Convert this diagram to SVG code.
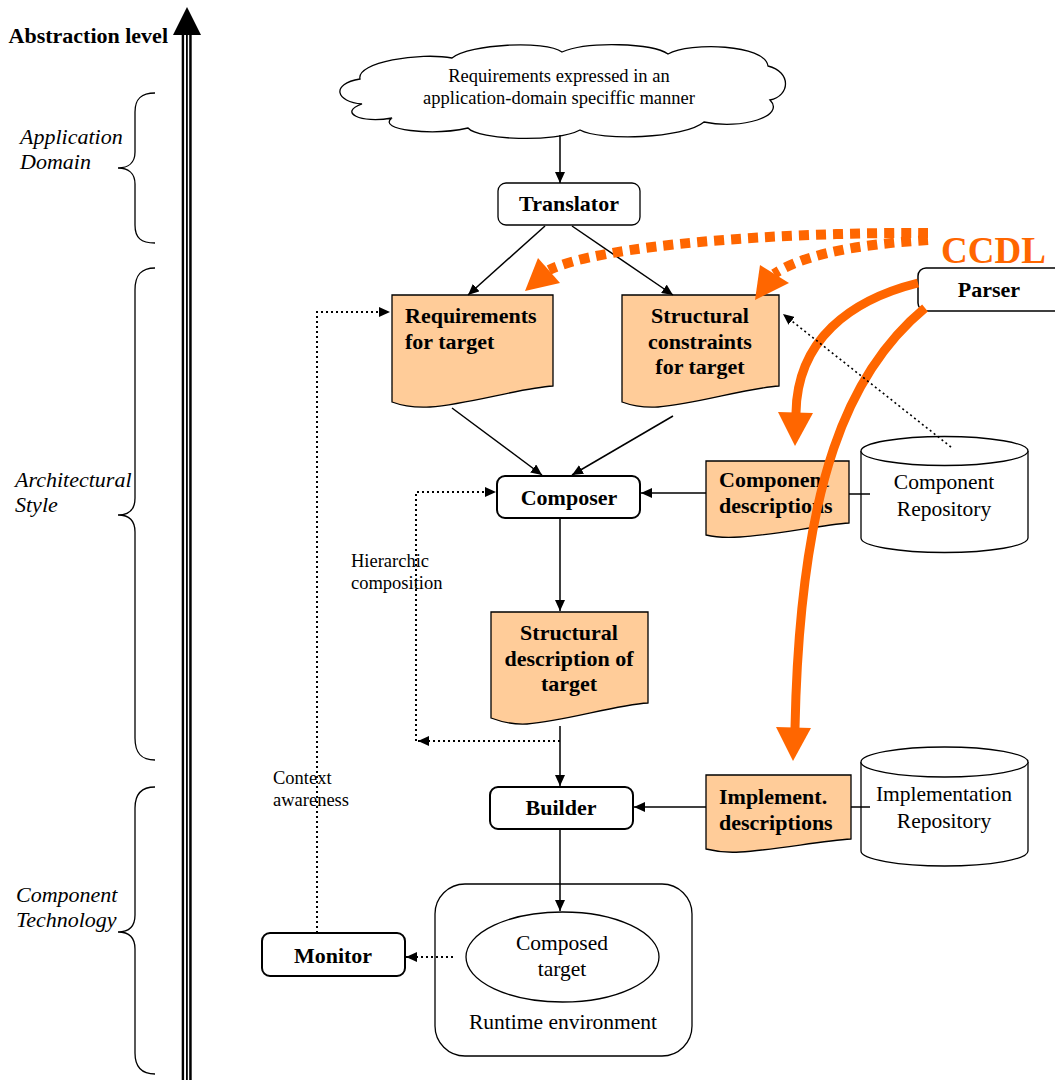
<svg xmlns="http://www.w3.org/2000/svg" width="1055" height="1080" viewBox="0 0 1055 1080">
<style>
  .b { font-family: "Liberation Serif", "Times New Roman", serif; font-weight: bold; font-size: 22px; fill: #000; }
  .r { font-family: "Liberation Serif", "Times New Roman", serif; font-size: 21.5px; fill: #000; }
  .s { font-family: "Liberation Serif", "Times New Roman", serif; font-size: 18.5px; fill: #000; }
  .i { font-family: "Liberation Serif", "Times New Roman", serif; font-style: italic; font-size: 22px; fill: #000; }
  .box { fill: #fff; stroke: #000; stroke-width: 2; }
  .doc { fill: #FFCC99; stroke: #000; stroke-width: 1.3; }
  .cyl { fill: #fff; stroke: #000; stroke-width: 1.3; }
  .ln { fill: none; stroke: #000; stroke-width: 1.5; }
  .dot { fill: none; stroke: #000; stroke-width: 2; stroke-dasharray: 2 3; }
  .brace { fill: none; stroke: #000; stroke-width: 1.3; }
  .orsolid { fill: none; stroke: #FF6600; stroke-width: 9; }
  .ordash { fill: none; stroke: #FF6600; stroke-width: 10; stroke-dasharray: 10 7; }
  .orhead { fill: #FF6600; }
</style>
<defs>
  <marker id="ah" markerUnits="userSpaceOnUse" markerWidth="11" markerHeight="10" refX="11" refY="5" orient="auto">
    <path d="M0,0 L11,5 L0,10 z" fill="#000"/>
  </marker>
</defs>
<rect x="0" y="0" width="1055" height="1080" fill="#fff"/>

<!-- Abstraction axis -->
<g id="axis">
  <rect x="181.7" y="30" width="2.4" height="1050" fill="#000"/>
  <rect x="186" y="30" width="1.8" height="1050" fill="#000"/>
  <rect x="189.2" y="30" width="2.5" height="1050" fill="#000"/>
  <polygon points="187,7 173,35 201,35" fill="#000"/>
  <text class="b" x="168" y="43" text-anchor="end">Abstraction level</text>
</g>

<!-- Level braces -->
<g id="level-application">
  <path class="brace" d="M155,93 C141,93 135,99 135,112 V152 C135,163 128,168 118,168 C128,168 135,173 135,184 V225 C135,238 141,243 155,243"/>
  <text class="i" x="20" y="144">Application</text>
  <text class="i" x="20" y="169">Domain</text>
</g>
<g id="level-architectural">
  <path class="brace" d="M155,268 C141,268 135,275 135,290 V498 C135,510 128,515 118,515 C128,515 135,520 135,532 V738 C135,753 141,760 155,760"/>
  <text class="i" x="15" y="487">Architectural</text>
  <text class="i" x="15" y="512">Style</text>
</g>
<g id="level-component">
  <path class="brace" d="M155,787 C141,787 135,794 135,808 V915 C135,927 128,932 118,932 C128,932 135,937 135,949 V1053 C135,1067 141,1074 155,1074"/>
  <text class="i" x="16" y="902">Component</text>
  <text class="i" x="16" y="927">Technology</text>
</g>

<!-- Nodes -->
<g id="requirements-cloud">
  <path d="M362,104 C336,102 330,84 360,79 C356,62 420,52 452,58 C470,44 545,40 562,52 C588,41 652,43 668,54 C690,42 765,44 768,66 C792,72 790,96 770,100 C786,116 742,130 704,122 C684,139 600,141 580,130 C556,143 478,140 468,128 C432,136 376,130 392,118 C360,124 338,112 362,104 Z" fill="#fff" stroke="#000" stroke-width="1.3"/>
  <text class="s" x="559" y="82" text-anchor="middle">Requirements expressed in an</text>
  <text class="s" x="559" y="104" text-anchor="middle">application-domain speciffic manner</text>
</g>

<g id="translator">
  <rect class="box" x="498" y="183" width="142" height="42" rx="8" style="stroke-width:1.3"/>
  <text class="b" x="569" y="211" text-anchor="middle">Translator</text>
</g>

<g id="requirements-for-target">
  <path class="doc" d="M392,295 H553 V386 C520,388 470,404 430,407 C412,408 400,405 392,402 Z"/>
  <text class="b" x="405" y="323">Requirements</text>
  <text class="b" x="405" y="349">for target</text>
</g>

<g id="structural-constraints">
  <path class="doc" d="M622,295 H779 V386 C746,388 697,404 658,407 C641,408 630,405 622,402 Z"/>
  <text class="b" x="700" y="323" text-anchor="middle">Structural</text>
  <text class="b" x="700" y="349" text-anchor="middle">constraints</text>
  <text class="b" x="700" y="374" text-anchor="middle">for target</text>
</g>

<g id="parser">
  <rect class="box" x="918" y="268" width="150" height="43" rx="8" style="stroke-width:1.5"/>
  <text class="b" x="989" y="297" text-anchor="middle">Parser</text>
</g>

<g id="ccdl-label">
  <text x="941" y="263" font-family="Liberation Serif, Times New Roman, serif" font-weight="bold" font-size="37" fill="#FF6600">CCDL</text>
</g>

<g id="composer">
  <rect class="box" x="497" y="476" width="143" height="42" rx="8"/>
  <text class="b" x="569" y="505" text-anchor="middle">Composer</text>
</g>

<g id="component-descriptions">
  <path class="doc" d="M706,461 H849 V523 C820,525 775,535 740,537 C725,538 714,537 706,535 Z"/>
  <text class="b" x="719" y="487">Component</text>
  <text class="b" x="719" y="513">descriptions</text>
</g>

<g id="component-repository">
  <path class="cyl" d="M861,451 V538 A83.5,14.5 0 0 0 1028,538 V451"/>
  <ellipse class="cyl" cx="944.5" cy="451" rx="83.5" ry="14.5"/>
  <text class="r" x="944" y="489" text-anchor="middle">Component</text>
  <text class="r" x="944" y="516" text-anchor="middle">Repository</text>
</g>

<g id="structural-description">
  <path class="doc" d="M491,612 H648 V703 C615,705 566,721 527,724 C510,725 499,721 491,718 Z"/>
  <text class="b" x="569" y="640" text-anchor="middle">Structural</text>
  <text class="b" x="569" y="666" text-anchor="middle">description of</text>
  <text class="b" x="569" y="691" text-anchor="middle">target</text>
</g>

<g id="hierarchic-label">
  <text class="s" x="351" y="567">Hierarchic</text>
  <text class="s" x="351" y="589">composition</text>
</g>

<g id="context-label">
  <text class="s" x="273" y="784">Context</text>
  <text class="s" x="273" y="806">awareness</text>
</g>

<g id="builder">
  <rect class="box" x="490" y="787" width="143" height="42" rx="8"/>
  <text class="b" x="561" y="815" text-anchor="middle">Builder</text>
</g>

<g id="implement-descriptions">
  <path class="doc" d="M706,775 H851 V839 C820,841 775,850 740,852 C725,853 714,851 706,849 Z"/>
  <text class="b" x="719" y="804">Implement.</text>
  <text class="b" x="719" y="830">descriptions</text>
</g>

<g id="implementation-repository">
  <path class="cyl" d="M861,762 V851 A83.5,15 0 0 0 1028,851 V762"/>
  <ellipse class="cyl" cx="944.5" cy="762" rx="83.5" ry="15"/>
  <text class="r" x="944" y="801" text-anchor="middle">Implementation</text>
  <text class="r" x="944" y="828" text-anchor="middle">Repository</text>
</g>

<g id="runtime-environment">
  <rect x="435" y="884" width="257" height="172" rx="30" fill="#fff" stroke="#000" stroke-width="1.3"/>
  <text class="r" x="563" y="1029" text-anchor="middle">Runtime environment</text>
</g>

<g id="composed-target">
  <ellipse cx="562.5" cy="957" rx="96.5" ry="45" fill="#fff" stroke="#000" stroke-width="1.3"/>
  <text class="r" x="562" y="950" text-anchor="middle">Composed</text>
  <text class="r" x="562" y="976" text-anchor="middle">target</text>
</g>

<g id="monitor">
  <rect class="box" x="262" y="933" width="143" height="43" rx="8"/>
  <text class="b" x="333" y="963" text-anchor="middle">Monitor</text>
</g>

<!-- Connectors -->
<g id="connectors">
  <path class="ln" d="M560,135 V183" marker-end="url(#ah)"/>
  <path class="ln" d="M545,226 L468,295" marker-end="url(#ah)"/>
  <path class="ln" d="M572,226 L673,295" marker-end="url(#ah)"/>
  <path class="ln" d="M452,408 L542,475" marker-end="url(#ah)"/>
  <path class="ln" d="M673,416 L572,475" marker-end="url(#ah)"/>
  <path class="ln" d="M706,493 H641" marker-end="url(#ah)"/>
  <path class="ln" d="M849,494 H870"/>
  <path class="ln" d="M560,518 V611" marker-end="url(#ah)"/>
  <path class="ln" d="M560,726 V786" marker-end="url(#ah)"/>
  <path class="ln" d="M706,807 H634" marker-end="url(#ah)"/>
  <path class="ln" d="M851,807 H870"/>
  <path class="ln" d="M560,829 V911" marker-end="url(#ah)"/>

  <!-- orange CCDL arrows -->
  <path class="ordash" d="M928,233 C780,232 600,245 549,270"/>
  <polygon class="orhead" points="525,291 538,258 560,283"/>
  <path class="ordash" d="M928,240 C880,243 810,250 774,274"/>
  <polygon class="orhead" points="755,300 760,265 789,283"/>
  <path class="orsolid" d="M918,283 C850,300 797,340 796,413"/>
  <polygon class="orhead" points="795,446 778,412 813,413"/>
  <path class="orsolid" d="M925,308 C850,370 800,480 795,728"/>
  <polygon class="orhead" points="793,761 776,727 811,728"/>

  <!-- dotted connectors -->
  <path class="dot" d="M951,447 L783,314" style="stroke-width:1.6" marker-end="url(#ah)"/>
  <path class="dot" d="M317,933 V312 H390" marker-end="url(#ah)"/>
  <path class="dot" d="M560,741 H418" marker-end="url(#ah)"/>
  <path class="dot" d="M416,741 V492 H496" marker-end="url(#ah)"/>
  <path class="dot" d="M453,957 H406" marker-end="url(#ah)"/>
</g>
</svg>
